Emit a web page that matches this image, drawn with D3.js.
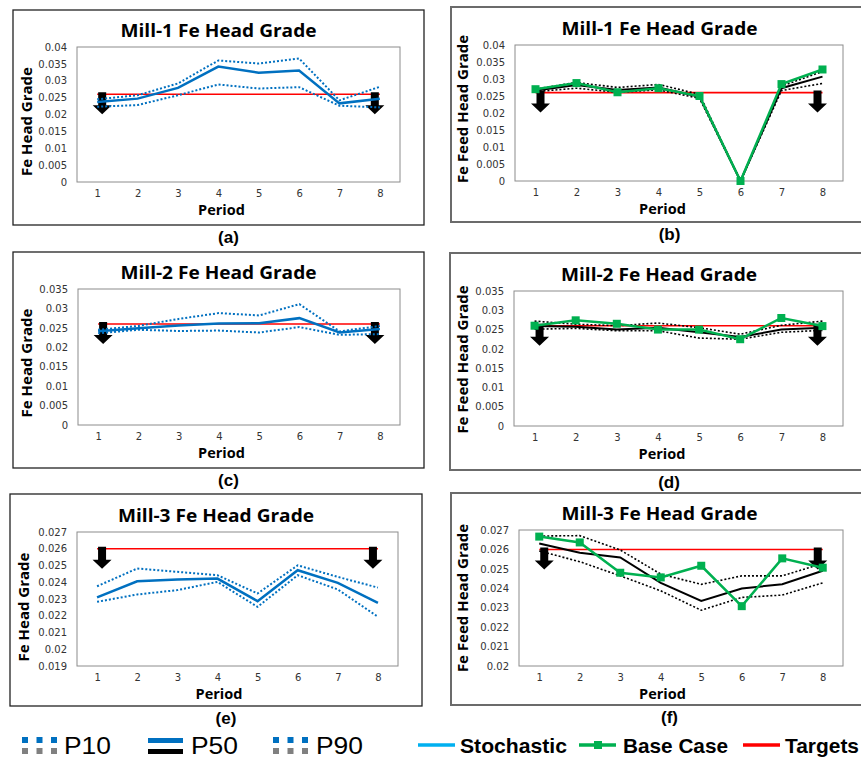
<!DOCTYPE html>
<html>
<head>
<meta charset="utf-8">
<script src="https://cdn.jsdelivr.net/npm/d3@7"></script>
<style>
body { margin: 0; background: #fff; }
svg { display: block; }
</style>
</head>
<body>
<svg id="chart" width="861" height="759"></svg>
<script>
// periods on the x axis
var periods = [1, 2, 3, 4, 5, 6, 7, 8];

// Mill-1 values
var m1StochP10 = [0.0223, 0.0228, 0.0257, 0.0289, 0.0277, 0.0281, 0.0226, 0.0221];
var m1StochP50 = [0.0237, 0.0247, 0.0279, 0.0342, 0.0324, 0.0330, 0.0233, 0.0247];
var m1StochP90 = [0.0245, 0.0257, 0.0292, 0.0360, 0.0351, 0.0366, 0.0242, 0.0282];
var m1BaseP10 = [0.0263, 0.0273, 0.0261, 0.0268, 0.0243, 0, 0.0266, 0.0287];
var m1BaseP50 = [0.0266, 0.0282, 0.0268, 0.0275, 0.0248, 0, 0.0273, 0.0307];
var m1BaseP90 = [0.0270, 0.0290, 0.0275, 0.0284, 0.0255, 0, 0.0279, 0.0322];
var m1BaseCase = [0.0270, 0.0288, 0.0261, 0.0273, 0.0250, 0, 0.0285, 0.0328];

// Mill-2 values
var m2StochP10 = [0.0236, 0.0245, 0.0242, 0.0243, 0.0238, 0.0252, 0.0232, 0.0234];
var m2StochP50 = [0.0241, 0.0249, 0.0256, 0.0261, 0.0262, 0.0275, 0.0238, 0.0247];
var m2StochP90 = [0.0245, 0.0255, 0.0273, 0.0288, 0.0282, 0.0311, 0.0241, 0.0255];
var m2BaseP10 = [0.0251, 0.0253, 0.0247, 0.0247, 0.0228, 0.0225, 0.0243, 0.0248];
var m2BaseP50 = [0.0259, 0.0257, 0.0250, 0.0255, 0.0243, 0.0231, 0.0250, 0.0255];
var m2BaseP90 = [0.0272, 0.0264, 0.0260, 0.0267, 0.0255, 0.0238, 0.0261, 0.0272];
var m2BaseCase = [0.0260, 0.0274, 0.0265, 0.0250, 0.0250, 0.0225, 0.0280, 0.0259];

// Mill-3 values
var m3StochP10 = [0.02283, 0.02327, 0.02353, 0.02402, 0.02253, 0.02442, 0.02357, 0.02194];
var m3StochP50 = [0.02310, 0.02406, 0.02416, 0.02422, 0.02287, 0.02472, 0.02396, 0.02277];
var m3StochP90 = [0.02376, 0.02482, 0.02462, 0.02442, 0.02333, 0.02501, 0.02432, 0.02368];
var m3BaseP10 = [0.02592, 0.02537, 0.02464, 0.02387, 0.02287, 0.02353, 0.02365, 0.02428];
var m3BaseP50 = [0.02631, 0.02583, 0.02559, 0.02428, 0.02335, 0.02399, 0.02421, 0.02490];
var m3BaseP90 = [0.02669, 0.02671, 0.02597, 0.02473, 0.02420, 0.02464, 0.02464, 0.02528];
var m3BaseCase = [0.02666, 0.02636, 0.02480, 0.02456, 0.02516, 0.02308, 0.02554, 0.02506];

// target grade for each mill
var targets = [0.026, 0.026, 0.026];

// y tick values
var ticksMill1 = [0, 0.005, 0.01, 0.015, 0.02, 0.025, 0.03, 0.035, 0.04];
var ticksMill2 = [0, 0.005, 0.01, 0.015, 0.02, 0.025, 0.03, 0.035];
var ticksMill3a = [0.019, 0.02, 0.021, 0.022, 0.023, 0.024, 0.025, 0.026, 0.027];
var ticksMill3b = [0.02, 0.021, 0.022, 0.023, 0.024, 0.025, 0.026, 0.027];

var titles = ["Mill-1 Fe Head Grade", "Mill-2 Fe Head Grade", "Mill-3 Fe Head Grade"];
var yTitles = ["Fe Head Grade", "Fe Feed Head Grade"];
var panelTags = ["(a)", "(b)", "(c)", "(d)", "(e)", "(f)"];
var legendPct = ["P10", "P50", "P90"];
var legendLines = ["Stochastic", "Base Case", "Targets"];

var blue = "#0070c0", green = "#00b050", red = "#ff0000";

// layout of each panel (box and plot area corners)
var panels = [
    {tag: 0, mill: 0, kind: "stoch", ticks: ticksMill1, box: [13, 10, 424, 225], plot: [77, 47, 400, 182], yl: 0, ylx: 27, yloff: 7,
     p10: m1StochP10, p50: m1StochP50, p90: m1StochP90},
    {tag: 1, mill: 0, kind: "base", ticks: ticksMill1, box: [451, 7, 868, 222], plot: [515, 45, 843, 181], yl: 1, ylx: 463, yloff: -4,
     p10: m1BaseP10, p50: m1BaseP50, p90: m1BaseP90, base: m1BaseCase},
    {tag: 2, mill: 1, kind: "stoch", ticks: ticksMill2, box: [13, 252, 424, 468], plot: [78, 289, 400, 425], yl: 0, ylx: 27, yloff: 6,
     p10: m2StochP10, p50: m2StochP50, p90: m2StochP90},
    {tag: 3, mill: 1, kind: "base", ticks: ticksMill2, box: [450, 253, 868, 470], plot: [514, 291, 843, 426], yl: 1, ylx: 463, yloff: 1,
     p10: m2BaseP10, p50: m2BaseP50, p90: m2BaseP90, base: m2BaseCase},
    {tag: 4, mill: 2, kind: "stoch", ticks: ticksMill3a, box: [10, 494, 422, 706], plot: [77, 532, 398, 666], yl: 0, ylx: 24, yloff: 8,
     p10: m3StochP10, p50: m3StochP50, p90: m3StochP90},
    {tag: 5, mill: 2, kind: "base", ticks: ticksMill3b, box: [451, 493, 868, 705], plot: [519, 530, 843, 666], yl: 1, ylx: 463, yloff: 0,
     p10: m3BaseP10, p50: m3BaseP50, p90: m3BaseP90, base: m3BaseCase}
];

var svg = d3.select("#chart");

panels.forEach(drawPanel);
drawLegend();

function drawPanel(p) {
    var g = svg.append("g");
    var bx0 = p.box[0], by0 = p.box[1], bx1 = p.box[2], by1 = p.box[3];
    var px0 = p.plot[0], py0 = p.plot[1], px1 = p.plot[2], py1 = p.plot[3];
    var cx = (bx0 + bx1) / 2;
    var right = p.kind == "base";

    // outer box
    g.append("rect")
        .attr("x", bx0).attr("y", by0)
        .attr("width", bx1 - bx0).attr("height", by1 - by0)
        .attr("fill", "none")
        .attr("stroke", right ? "#6b6b6b" : "#222")
        .attr("stroke-width", right ? 2 : 1.3);

    // plot area
    g.append("rect")
        .attr("x", px0).attr("y", py0)
        .attr("width", px1 - px0).attr("height", py1 - py0)
        .attr("fill", "none")
        .attr("stroke", "#8c8c8c")
        .attr("stroke-width", 1);

    var x = d3.scalePoint().domain(periods).range([px0, px1]).padding(0.5);
    var y = d3.scaleLinear()
        .domain([p.ticks[0], p.ticks[p.ticks.length - 1]])
        .range([py1, py0]);

    var axisY = d3.axisLeft(y).tickValues(p.ticks).tickSize(0).tickPadding(10)
        .tickFormat(function(d) { return String(+d.toFixed(3)); });
    var gy = g.append("g").attr("transform", "translate(" + px0 + ",0)").call(axisY);
    gy.select(".domain").remove();
    gy.selectAll("text").attr("font-family", "DejaVu Sans").attr("font-size", 10).attr("fill", "#333");

    var axisX = d3.axisBottom(x).tickSize(0).tickPadding(8);
    var gx = g.append("g").attr("transform", "translate(0," + py1 + ")").call(axisX);
    gx.select(".domain").remove();
    gx.selectAll("text").attr("font-family", "DejaVu Sans").attr("font-size", 10).attr("fill", "#333");

    // titles
    g.append("text")
        .attr("x", cx).attr("y", py0 - 10)
        .attr("text-anchor", "middle")
        .attr("font-family", "Open Sans").attr("font-weight", 700).attr("font-size", 18)
        .attr("textLength", 196).attr("lengthAdjust", "spacingAndGlyphs")
        .text(titles[p.mill]);
    g.append("text")
        .attr("x", cx + 3).attr("y", py1 + 33)
        .attr("text-anchor", "middle")
        .attr("font-family", "Open Sans").attr("font-weight", 700).attr("font-size", 14.5)
        .text("Period");
    g.append("text")
        .attr("transform", "translate(" + (p.ylx + 5) + "," + ((py0 + py1) / 2 + p.yloff) + ") rotate(-90)")
        .attr("text-anchor", "middle")
        .attr("font-family", "Open Sans").attr("font-weight", 700).attr("font-size", 15)
        .text(yTitles[p.yl]);
    g.append("text")
        .attr("x", cx + 10).attr("y", by1 + 18)
        .attr("text-anchor", "middle")
        .attr("font-family", "Liberation Sans").attr("font-weight", 700).attr("font-size", 17)
        .text(panelTags[p.tag]);

    // target line
    var tgt = targets[p.mill];
    g.append("line")
        .attr("x1", x(1)).attr("x2", x(8))
        .attr("y1", y(tgt)).attr("y2", y(tgt))
        .attr("stroke", red).attr("stroke-width", 1.6);

    // down arrows at both ends of the target line
    var ty = y(tgt);
    [x(1) + 5, x(8) - 5].forEach(function(ax) {
        var pts = [[ax - 4, ty - 2], [ax + 4, ty - 2], [ax + 4, ty + 11], [ax + 9.5, ty + 11],
                   [ax, ty + 20], [ax - 9.5, ty + 11], [ax - 4, ty + 11]];
        g.append("polygon")
            .attr("points", pts.map(function(q) { return q.join(","); }).join(" "))
            .attr("fill", "#000");
    });

    var line = d3.line()
        .x(function(d, i) { return x(periods[i]); })
        .y(function(d) { return y(d); });

    var col = right ? "#000" : blue;
    g.append("path").datum(p.p10).attr("d", line).attr("fill", "none")
        .attr("stroke", col).attr("stroke-width", right ? 1.6 : 2).attr("stroke-dasharray", "2,2");
    g.append("path").datum(p.p90).attr("d", line).attr("fill", "none")
        .attr("stroke", col).attr("stroke-width", right ? 1.6 : 2).attr("stroke-dasharray", "2,2");
    g.append("path").datum(p.p50).attr("d", line).attr("fill", "none")
        .attr("stroke", col).attr("stroke-width", right ? 2 : 2.5);

    if (right) {
        g.append("path").datum(p.base).attr("d", line).attr("fill", "none")
            .attr("stroke", green).attr("stroke-width", 2.5);
        g.selectAll(".mk").data(p.base).enter().append("rect")
            .attr("x", function(d, i) { return x(periods[i]) - 4; })
            .attr("y", function(d) { return y(d) - 4; })
            .attr("width", 8).attr("height", 8)
            .attr("fill", green);
    }
}

function drawLegend() {
    var lg = svg.append("g");
    var iconX = [22, 148, 273];
    var textX = [64, 191, 316];
    var textW = [47, 47, 47];
    legendPct.forEach(function(name, i) {
        if (name == "P50") {
            lg.append("rect").attr("x", iconX[i]).attr("y", 738).attr("width", 35).attr("height", 5).attr("fill", blue);
            lg.append("rect").attr("x", iconX[i]).attr("y", 749).attr("width", 35).attr("height", 5).attr("fill", "#000");
        } else {
            [0, 1, 2].forEach(function(k) {
                lg.append("rect").attr("x", iconX[i] + k * 14.5).attr("y", 737).attr("width", 6).attr("height", 6).attr("fill", blue);
                lg.append("rect").attr("x", iconX[i] + k * 14.5).attr("y", 748).attr("width", 6).attr("height", 6).attr("fill", "#808080");
            });
        }
        lg.append("text")
            .attr("x", textX[i]).attr("y", 754)
            .attr("font-family", "Liberation Sans").attr("font-size", 23)
            .attr("textLength", textW[i]).attr("lengthAdjust", "spacingAndGlyphs")
            .text(name);
    });

    var lineX = [418, 579, 743];
    var lineC = ["#00b0f0", green, red];
    var lTextX = [460, 623, 785];
    var lTextW = [107, 105, 74];
    legendLines.forEach(function(name, i) {
        lg.append("line")
            .attr("x1", lineX[i]).attr("x2", lineX[i] + 37)
            .attr("y1", 745).attr("y2", 745)
            .attr("stroke", lineC[i]).attr("stroke-width", 3.5);
        if (name == "Base Case") {
            lg.append("rect").attr("x", lineX[i] + 15).attr("y", 741).attr("width", 8).attr("height", 8).attr("fill", green);
        }
        lg.append("text")
            .attr("x", lTextX[i]).attr("y", 753)
            .attr("font-family", "Liberation Sans").attr("font-weight", 700).attr("font-size", 21)
            .attr("textLength", lTextW[i]).attr("lengthAdjust", "spacingAndGlyphs")
            .text(name);
    });
}
</script>
</body>
</html>
